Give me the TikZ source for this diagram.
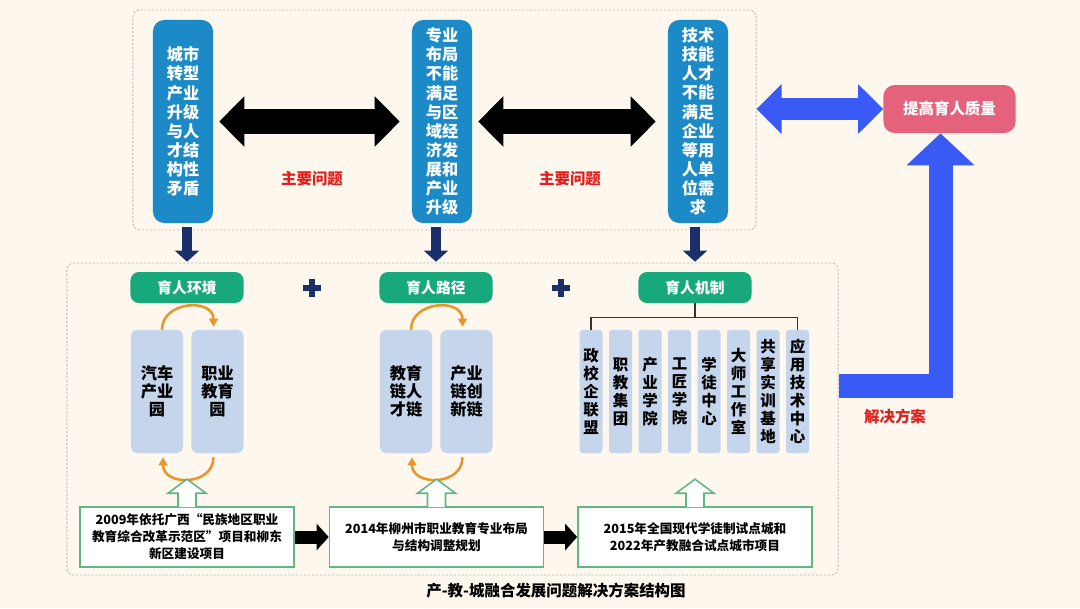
\documentclass[tikz,border=0pt]{standalone}
\usepackage{fontspec}
\setmainfont{Noto Sans CJK SC}
\usepackage{xcolor}
\usepackage{tikz}
\usetikzlibrary{arrows.meta,positioning,calc}

\definecolor{cream}{HTML}{FDF7EE}
\definecolor{probblue}{HTML}{1C8AC6}
\definecolor{navy}{HTML}{1B2F6B}
\definecolor{tealgreen}{HTML}{17A97B}
\definecolor{paleblue}{HTML}{C5D5EB}
\definecolor{arcorange}{HTML}{E8962C}
\definecolor{boxgreen}{HTML}{62B585}
\definecolor{royal}{HTML}{3A5AF5}
\definecolor{rosepink}{HTML}{E4627C}
\definecolor{alertred}{HTML}{E0201F}

\begin{document}
\begin{tikzpicture}[x=0.025cm, y=-0.025cm,
    frame/.style={rectangle, draw=gray!55, dash pattern=on 1.6pt off 1.2pt, line width=0.6pt, rounded corners=5pt},
    problem/.style={rectangle, fill=probblue, rounded corners=8pt, text=white, align=center, minimum width=1.5cm, minimum height=5.075cm, inner sep=0pt, font=\fontsize{11.5}{13.6}\selectfont\bfseries},
    quality/.style={rectangle, fill=rosepink, rounded corners=8pt, text=white, minimum width=3.3cm, minimum height=1.2cm, font=\fontsize{11}{13}\selectfont\bfseries},
    header/.style={rectangle, fill=tealgreen, rounded corners=6pt, text=white, minimum width=2.825cm, minimum height=0.775cm, font=\fontsize{10.5}{12}\selectfont\bfseries},
    env/.style={rectangle, fill=paleblue, rounded corners=4pt, align=center, minimum width=1.3cm, minimum height=3.075cm, inner sep=0pt, font=\fontsize{11.5}{12.8}\selectfont\bfseries},
    mech/.style={rectangle, fill=paleblue, rounded corners=2pt, align=center, minimum width=0.575cm, minimum height=3.075cm, inner sep=0pt, font=\fontsize{11}{12.8}\selectfont\bfseries},
    project/.style={rectangle, draw=boxgreen, fill=white, line width=1.1pt, align=center, minimum width=5.35cm, minimum height=1.5cm, inner sep=0pt, font=\fontsize{9}{12}\selectfont\bfseries},
    redlabel/.style={text=alertred, font=\fontsize{11}{13}\selectfont\bfseries},
    plussign/.style={rectangle, inner sep=0pt, minimum size=0.45cm},
    twoway/.style={line width=0.625cm, {Triangle[length=0.625cm,width=1.225cm]}-{Triangle[length=0.625cm,width=1.225cm]}, shorten <=0.15cm, shorten >=0.3cm},
    bluetwoway/.style={royal, line width=0.55cm, {Triangle[length=0.625cm,width=1.2cm]}-{Triangle[length=0.625cm,width=1.2cm]}},
    bigarrow/.style={royal, line width=0.6cm, -{Triangle[length=0.8cm,width=1.65cm]}},
    down/.style={navy, line width=0.25cm, -{Triangle[length=0.28cm,width=0.6cm]}, shorten >=0.25cm},
    link/.style={line width=0.325cm, -{Triangle[length=0.3cm,width=0.65cm]}},
    orbit/.style={arcorange, line width=1.8pt, -{Triangle[length=0.2cm,width=0.22cm]}},
    hollow/.style={draw=boxgreen, fill=white, line width=1.1pt},
    tree/.style={draw=black!80, line width=1pt}
]
    \path [use as bounding box, fill=cream] (0,0) rectangle (1080,608);

    \node [frame, minimum width=15.575cm, minimum height=5.5cm] (probframe) at (444.5,120) {};
    \node [frame, minimum width=19.275cm, minimum height=7.8cm] (solframe) at (452.5,419) {};

    \node [problem] (p1) at (183,121.5) {城市\\转型\\产业\\升级\\与人\\才结\\构性\\矛盾};
    \node [problem] (p2) at (442,121.5) {专业\\布局\\不能\\满足\\与区\\域经\\济发\\展和\\产业\\升级};
    \node [problem] (p3) at (698,121.5) {技术\\技能\\人才\\不能\\满足\\企业\\等用\\人单\\位需\\求};
    \node [quality] (q) at (949.5,109) {提高育人质量};

    \draw [twoway] (p1) -- (p2);
    \draw [twoway] (p2) -- (p3);
    \draw [bluetwoway] (probframe.east |- q.west) -- (q.west);
    \node [redlabel] (issue1) at (312,179) {主要问题};
    \node [redlabel] (issue2) at (570,179) {主要问题};

    \node [header] (g1) at (187,287.5) {育人环境};
    \node [header] (g2) at (436,287.5) {育人路径};
    \node [header] (g3) at (695,287.5) {育人机制};
    \foreach \p/\g in {p1/g1,p2/g2,p3/g3}
        \draw [down] ($(\g.north |- \p.south)+(0,4)$) -- (\g.north);

    \node [plussign] (add1) at (312,288) {};
    \node [plussign] (add2) at (561,288) {};
    \foreach \a in {add1,add2}
        \draw [navy, line width=0.16cm] (\a.west) -- (\a.east) (\a.north) -- (\a.south);

    \node [env] (e1) at (157,391.5) {汽车\\产业\\园};
    \node [env] (e2) at (217.5,391.5) {职业\\教育\\园};
    \node [env] (e3) at (406,391.5) {教育\\链人\\才链};
    \node [env] (e4) at (466.5,391.5) {产业\\链创\\新链};
    \foreach \l/\r in {e1/e2,e3/e4} {
        \draw [orbit] ($(\l.north)+(5,0)$) .. controls +(0,-29) and +(0,-29) .. ($(\r.north)+(-4,-3)$);
        \draw [orbit] ($(\r.south)+(-4,4)$) .. controls +(0,29) and +(0,29) .. ($(\l.south)+(6,4)$);
    }

    \foreach \txt [count=\i] in {{政\\校\\企\\联\\盟},{职\\教\\集\\团},{产\\业\\学\\院},{工\\匠\\学\\院},{学\\徒\\中\\心},{大\\师\\工\\作\\室},{共\\享\\实\\训\\基\\地},{应\\用\\技\\术\\中\\心}}
        \node [mech] (m\i) at ({591+29.5*(\i-1)},391.5) {\txt};
    \coordinate (t) at ($(g3.south)+(0,14)$);
    \draw [tree] (g3.south) -- (t);
    \draw [tree] (m1.north) |- (t) -| (m8.north);

    \node [project] (s1) at (187,537) {2009年依托广西“民族地区职业\\教育综合改革示范区”项目和柳东\\新区建设项目};
    \node [project] (s2) at (436.5,537) {2014年柳州市职业教育专业布局\\与结构调整规划};
    \node [project, minimum width=5.85cm] (s3) at (695,537) {2015年全国现代学徒制试点城和\\2022年产教融合试点城市项目};
    \draw [link] (s1) -- (s2);
    \draw [link] (s2) -- (s3);
    \foreach \s in {s1,s2,s3}
        \draw [hollow] ($(\s.north)+(-9,1)$) -- ++(0,-14) -- ++(-10,0) -- ($(\s.north)+(0,-27)$) -- ($(\s.north)+(19,-13)$) -- ++(-10,0) -- ($(\s.north)+(9,1)$);

    \draw [bigarrow] ($(solframe.east)+(0,-33)$) -| ($(q.south)+(-9,0)$);
    \node [redlabel] (solve) at (895,417) {解决方案};

    \node [font=\fontsize{11}{13}\selectfont\bfseries] (cap) at (556,591) {产-教-城融合发展问题解决方案结构图};
\end{tikzpicture}
\end{document}
